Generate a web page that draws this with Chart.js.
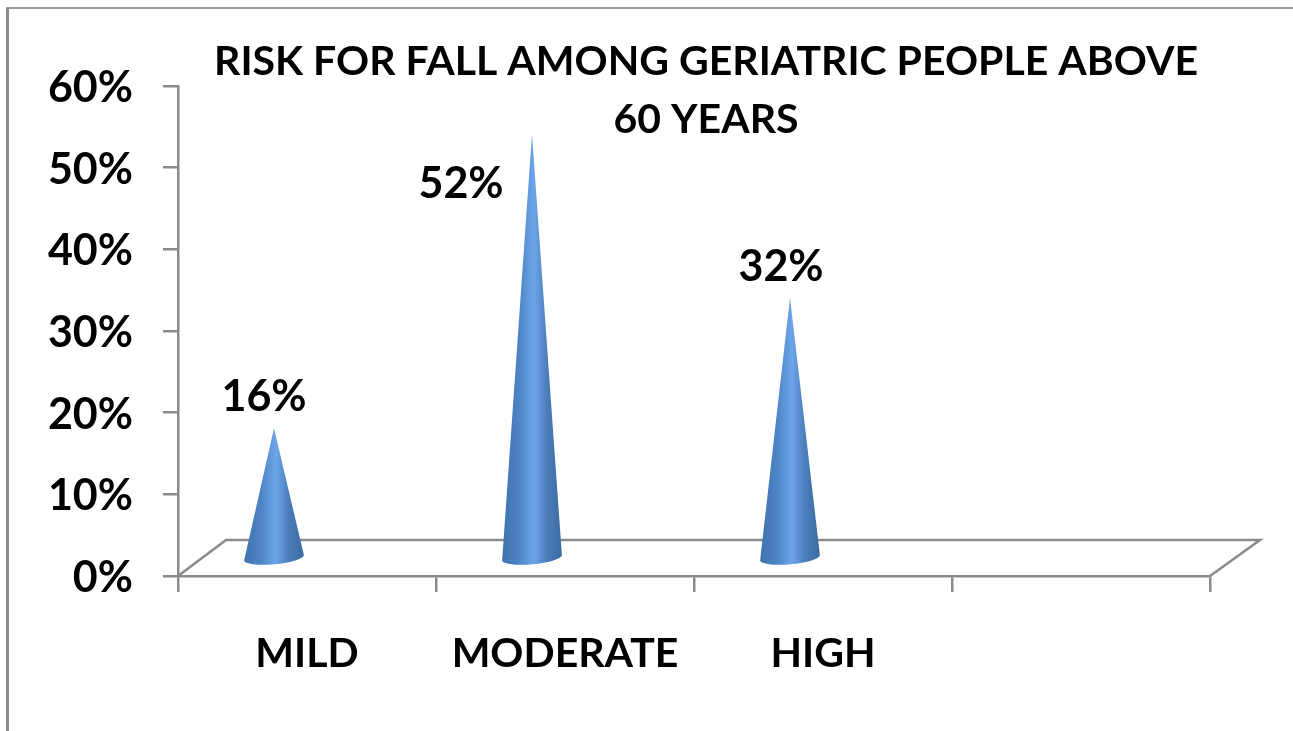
<!DOCTYPE html>
<html>
<head>
<meta charset="utf-8">
<title>Risk for fall</title>
<script src="https://cdn.jsdelivr.net/npm/chart.js@4"></script>
<style>
    html, body { margin: 0; padding: 0; background: #fff; overflow: hidden; }
    #frame {
        position: absolute; left: 6px; top: 7px; width: 1284px; height: 730px;
        border-left: 3px solid #8c8c8c; border-top: 2px solid #9c9c9c; border-right: 1px solid #c4c4c4;
    }
    canvas { position: absolute; left: 0; top: 0; }
</style>
</head>
<body>
<div id="frame"></div>
<canvas id="fallChart" width="1293" height="731"></canvas>
<script>
const categories = ['MILD', 'MODERATE', 'HIGH', ''];
const riskValues = [16, 52, 32, null];
const valueTicks = [0, 10, 20, 30, 40, 50, 60];
const titleLines = ['RISK FOR FALL AMONG GERIATRIC PEOPLE ABOVE', '60 YEARS'];

// Hand placed data labels, offset from the cone tip
const labelOffsets = [[-10, -31], [-71, 50], [-9, -31], [0, 0]];

const FONT = 'Lato, "Open Sans", sans-serif';
const AXIS_GREY = '#8a8a8a';
// 3D look: floor depth and where the cone sits on the floor
const floorDepth = { x: 48, y: -36 };
const coneShift = { x: -33, y: -17 };
const coneBase = { rx: 30, ry: 6.5, tilt: -0.09 };

const conePlugin = {
    id: 'cones',
    afterLayout(chart) {
        // move the title over, it is not centred on the canvas
        chart.titleBlock.left += 101;
        chart.titleBlock.right += 101;
    },
    beforeDatasetsDraw(chart) {
        const { ctx, chartArea: a } = chart;
        ctx.save();
        ctx.strokeStyle = AXIS_GREY;
        ctx.lineWidth = 2.5;
        ctx.beginPath();
        ctx.moveTo(a.left, a.bottom);
        ctx.lineTo(a.left + floorDepth.x, a.bottom + floorDepth.y);
        ctx.lineTo(a.right + floorDepth.x + 2, a.bottom + floorDepth.y);
        ctx.lineTo(a.right, a.bottom);
        ctx.stroke();
        ctx.restore();
    },
    afterDatasetsDraw(chart) {
        const { ctx } = chart;
        const meta = chart.getDatasetMeta(0);
        meta.data.forEach((bar, i) => {
            if (riskValues[i] === null) return;
            const cx = bar.x + coneShift.x;
            const tipY = bar.y + coneShift.y;
            const baseY = bar.base + coneShift.y;
            const { rx, ry, tilt } = coneBase;

            const grad = ctx.createLinearGradient(cx - rx, 0, cx + rx, 0);
            grad.addColorStop(0, '#3f72ad');
            grad.addColorStop(0.3, '#4f86c6');
            grad.addColorStop(0.53, '#6ea5ea');
            grad.addColorStop(0.75, '#4a7dba');
            grad.addColorStop(1, '#3c6a9e');

            ctx.save();
            ctx.fillStyle = grad;
            ctx.beginPath();
            ctx.moveTo(cx, tipY);
            ctx.lineTo(cx - rx * Math.cos(tilt), baseY - rx * Math.sin(tilt));
            ctx.ellipse(cx, baseY, rx, ry, tilt, Math.PI, 0, true);
            ctx.closePath();
            ctx.fill();

            ctx.fillStyle = '#000';
            ctx.font = 'bold 43px ' + FONT;
            ctx.textAlign = 'center';
            ctx.textBaseline = 'middle';
            ctx.fillText(riskValues[i] + '%', cx + labelOffsets[i][0], tipY + labelOffsets[i][1]);
            ctx.restore();
        });
    }
};

document.addEventListener('DOMContentLoaded', function () {
    const ctx = document.getElementById('fallChart').getContext('2d');

    new Chart(ctx, {
        type: 'bar',
        data: {
            labels: categories,
            datasets: [{
                label: 'Risk for fall',
                data: riskValues,
                backgroundColor: 'rgba(0,0,0,0)'
            }]
        },
        plugins: [conePlugin],
        options: {
            responsive: false,
            animation: false,
            layout: { padding: { right: 83 } },
            plugins: {
                legend: { display: false },
                tooltip: { enabled: false },
                title: {
                    display: true,
                    text: titleLines,
                    color: '#000',
                    font: { family: FONT, size: 41, weight: 'bold', lineHeight: 1.415 },
                    padding: { top: 33, bottom: -63 }
                }
            },
            scales: {
                x: {
                    afterFit(scale) { scale.height = 155; },
                    border: { color: AXIS_GREY, width: 2.5 },
                    grid: { drawOnChartArea: false, color: AXIS_GREY, lineWidth: 2.5, tickLength: 16 },
                    ticks: {
                        color: '#000',
                        maxRotation: 0,
                        autoSkip: false,
                        padding: 37,
                        font: { family: FONT, size: 41, weight: 'bold' }
                    }
                },
                y: {
                    min: 0,
                    max: 60,
                    afterFit(scale) { scale.width = 178; },
                    afterBuildTicks(scale) { scale.ticks = valueTicks.map(v => ({ value: v })); },
                    border: { color: AXIS_GREY, width: 2.5 },
                    grid: { drawOnChartArea: false, color: AXIS_GREY, lineWidth: 2.5, tickLength: 15 },
                    ticks: {
                        color: '#000',
                        padding: 30,
                        labelOffset: 2,
                        font: { family: FONT, size: 43, weight: 'bold' },
                        callback: v => v + '%'
                    }
                }
            }
        }
    });
});
</script>
</body>
</html>
